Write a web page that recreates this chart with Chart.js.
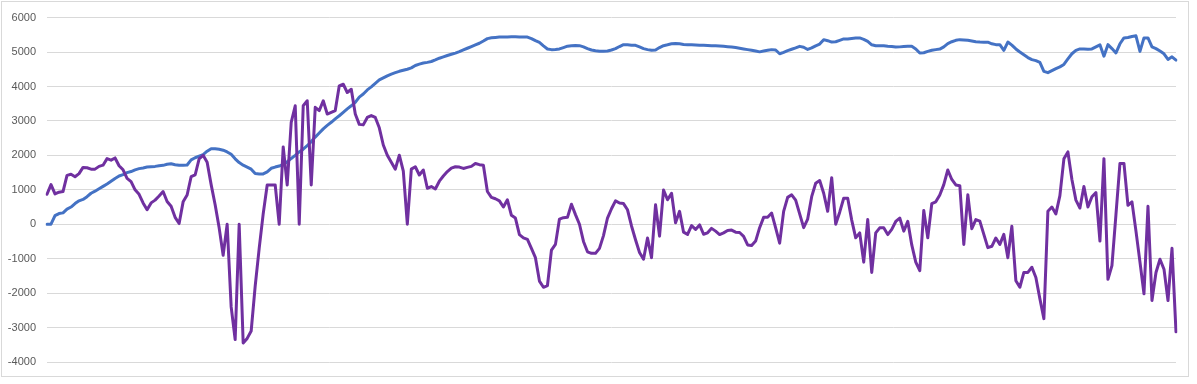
<!DOCTYPE html>
<html>
<head>
<meta charset="utf-8">
<script src="https://cdn.jsdelivr.net/npm/chart.js@4/dist/chart.umd.min.js"></script>
<style>
  html, body { margin: 0; padding: 0; background: #ffffff; }
  #wrap { position: relative; width: 1197px; height: 384px; }
  #frame { position: absolute; left: 1px; top: 1px; width: 1188px; height: 376px; box-sizing: border-box; border: 1px solid #D9D9D9; pointer-events: none; }
  canvas { position: absolute; left: 0; top: 0; }
</style>
</head>
<body>
<div id="wrap">
  <canvas id="c" width="1197" height="384"></canvas>
  <div id="frame"></div>
</div>
<script>
// Y-axis tick labels
const yTickValues = [6000, 5000, 4000, 3000, 2000, 1000, 0, -1000, -2000, -3000, -4000];

// Series 1 (blue): cumulative line
const blueSeries = [
  0,0,250,310,330,440,500,600,680,720,
  800,900,960,1030,1100,1170,1250,1330,1400,1440,
  1500,1530,1580,1615,1635,1660,1670,1680,1700,1710,
  1740,1755,1730,1715,1715,1720,1870,1930,1975,2020,
  2120,2195,2190,2175,2150,2100,2030,1900,1790,1715,
  1660,1600,1470,1460,1460,1520,1625,1660,1690,1740,
  1810,1910,2000,2100,2180,2280,2400,2530,2650,2770,
  2870,2960,3060,3150,3250,3350,3440,3540,3690,3780,
  3900,3990,4090,4190,4250,4310,4360,4400,4440,4470,
  4500,4540,4610,4650,4680,4700,4725,4770,4820,4860,
  4900,4935,4970,5010,5060,5110,5160,5210,5255,5320,
  5390,5415,5425,5435,5440,5440,5445,5445,5440,5435,
  5435,5390,5330,5280,5180,5090,5070,5075,5090,5130,
  5170,5185,5190,5185,5150,5100,5060,5040,5025,5020,
  5030,5060,5100,5160,5215,5210,5200,5195,5150,5100,
  5070,5050,5060,5130,5185,5210,5240,5245,5240,5220,
  5215,5210,5205,5200,5195,5190,5185,5180,5175,5165,
  5155,5145,5130,5110,5090,5070,5050,5030,5005,5030,
  5050,5070,5060,4950,4990,5040,5080,5120,5165,5140,
  5075,5120,5180,5230,5360,5330,5290,5300,5340,5380,
  5380,5395,5405,5410,5370,5310,5210,5185,5185,5185,
  5170,5160,5145,5150,5160,5165,5165,5090,4970,4980,
  5020,5050,5070,5085,5150,5245,5300,5340,5360,5350,
  5340,5320,5300,5290,5285,5285,5240,5215,5215,5050,
  5290,5200,5090,5000,4920,4840,4780,4750,4700,4440,
  4400,4460,4520,4570,4640,4800,4950,5050,5090,5085,
  5080,5090,5150,5210,4880,5215,5100,4975,5240,5410,
  5420,5450,5470,5020,5410,5410,5150,5100,5030,4950,
  4785,4860,4765
];

// Series 2 (purple): oscillating line
const purpleSeries = [
  870,1150,880,930,950,1420,1450,1380,1470,1650,
  1640,1600,1600,1680,1715,1905,1860,1925,1700,1580,
  1330,1235,1000,870,620,420,620,700,820,950,
  660,520,200,20,650,850,1380,1430,1900,2000,
  1800,1150,565,-105,-900,0,-2400,-3350,0,-3450,
  -3315,-3100,-1800,-700,300,1140,1140,1140,0,2245,
  1140,2960,3440,0,3440,3585,1140,3395,3300,3585,
  3200,3250,3300,4020,4065,3825,3920,3200,2900,2885,
  3100,3155,3100,2800,2300,2005,1800,1600,2005,1545,
  0,1600,1670,1430,1575,1045,1095,1025,1250,1400,
  1530,1630,1670,1660,1620,1650,1680,1765,1730,1715,
  950,780,740,680,500,710,260,180,-300,-395,
  -440,-700,-970,-1650,-1830,-1780,-750,-585,150,190,
  200,580,280,0,-500,-800,-845,-845,-700,-330,
  180,450,680,615,600,420,-50,-450,-820,-1015,
  -400,-970,565,-345,995,710,900,40,375,-230,
  -295,-40,-150,-20,-290,-250,-120,-200,-300,-250,
  -180,-170,-230,-240,-350,-600,-620,-490,-100,200,
  200,325,-105,-550,375,780,855,700,300,-100,
  150,800,1190,1270,900,375,1350,0,350,755,
  755,120,-395,-250,-1100,135,-1400,-250,-105,-105,
  -300,-150,80,180,-200,85,-600,-1100,-1350,400,
  -395,600,650,850,1150,1575,1300,1140,1120,-585,
  855,-130,135,90,-295,-680,-640,-400,-585,-295,
  -970,-60,-1640,-1830,-1400,-1400,-1250,-1545,-2165,-2740,
  375,500,300,830,1900,2100,1300,700,470,1095,
  500,800,920,-490,1905,-1600,-1200,280,1765,1765,
  550,650,-200,-1100,-2020,520,-2215,-1400,-1015,-1305,
  -2215,-700,-3125
];

// Categories: one per observation (no visible labels)
const categories = blueSeries.map((_, i) => String(i + 1));

new Chart(document.getElementById('c').getContext('2d'), {
  type: 'line',
  data: {
    labels: categories,
    datasets: [
      { label: 'Series 2', data: purpleSeries, borderColor: '#7030A0', backgroundColor: '#7030A0',
        borderWidth: 3, pointRadius: 0, tension: 0, fill: false, borderJoinStyle: 'round', borderCapStyle: 'round' },
      { label: 'Series 1', data: blueSeries, borderColor: '#4472C4', backgroundColor: '#4472C4',
        borderWidth: 3, pointRadius: 0, tension: 0, fill: false, borderJoinStyle: 'round', borderCapStyle: 'round' }
    ]
  },
  options: {
    responsive: false,
    animation: false,
    devicePixelRatio: 1,
    layout: { padding: { left: 0, top: 14, right: 21, bottom: 22 } },
    plugins: { legend: { display: false }, tooltip: { enabled: false } },
    scales: {
      x: { display: false },
      y: {
        min: -4000, max: 6000,
        afterBuildTicks: (s) => { s.ticks = yTickValues.map(v => ({ value: v })); },
        afterFit: (s) => { s.width = 47; },
        ticks: {
          padding: 11, color: '#595959',
          font: { family: "'Liberation Sans', Arial, sans-serif", size: 11 },
          callback: (v) => String(v)
        },
        grid: { color: '#D9D9D9', lineWidth: 1, drawTicks: false },
        border: { display: false }
      }
    }
  }
});
</script>
</body>
</html>
